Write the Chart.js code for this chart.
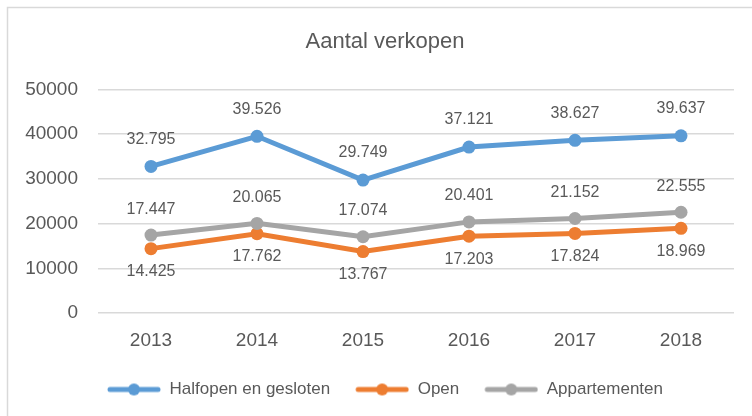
<!DOCTYPE html>
<html>
<head>
    <meta charset="utf-8" />
    <title>Aantal verkopen</title>
    <script src="https://cdn.jsdelivr.net/npm/chart.js"></script>
    <style>
        html, body { margin: 0; padding: 0; background: #fff; }
        .chart-container { width: 752px; height: 416px; position: relative; }
    </style>
</head>
<body>
    <div class="chart-container">
        <canvas id="lineChart"></canvas>
    </div>

    <script>
        // data
        const jaren = ['2013', '2014', '2015', '2016', '2017', '2018'];
        const halfopen = [32795, 39526, 29749, 37121, 38627, 39637];
        const open = [14425, 17762, 13767, 17203, 17824, 18969];
        const appartementen = [17447, 20065, 17074, 20401, 21152, 22555];
        const reeksen = ['Halfopen en gesloten', 'Open', 'Appartementen'];

        const kleuren = ['#5B9BD5', '#ED7D31', '#A5A5A5'];
        const tekstKleur = '#595959';
        const font = 'Liberation Sans, Arial, sans-serif';

        // 32795 -> 32.795
        function fmt(v) {
            return String(v).replace(/\B(?=(\d{3})+(?!\d))/g, '.');
        }

        // legend marker: line with a dot, like excel
        function legendMarker(kleur) {
            const c = document.createElement('canvas');
            c.width = 66;
            c.height = 14;
            const g = c.getContext('2d');
            g.strokeStyle = kleur;
            g.lineWidth = 5;
            g.lineCap = 'round';
            g.beginPath();
            g.moveTo(15, 7);
            g.lineTo(63, 7);
            g.stroke();
            g.fillStyle = kleur;
            g.beginPath();
            g.arc(39, 7, 6, 0, Math.PI * 2);
            g.fill();
            return c;
        }
        const markers = kleuren.map(legendMarker);

        // frame
        const frame = {
            id: 'frame',
            beforeDraw(chart) {
                const c = chart.ctx;
                c.save();
                c.strokeStyle = '#D9D9D9';
                c.lineWidth = 1.5;
                c.strokeRect(7.5, 7.5, 760, 420);
                c.restore();
            }
        };

        // title + legend sit a bit right of the middle in the original
        const shift = {
            id: 'shift',
            afterLayout(chart) {
                [chart.titleBlock, chart.legend].forEach((b, i) => {
                    const d = i === 0 ? 18 : 12;
                    if (b) { b.left += d; b.right += d; }
                });
            }
        };

        // value labels
        const offsets = [-27, 23, -26];
        const labels = {
            id: 'labels',
            afterDatasetsDraw(chart) {
                const c = chart.ctx;
                c.save();
                c.font = '16px ' + font;
                c.fillStyle = tekstKleur;
                c.textAlign = 'center';
                c.textBaseline = 'middle';
                chart.data.datasets.forEach((ds, i) => {
                    const meta = chart.getDatasetMeta(i);
                    meta.data.forEach((pt, j) => {
                        c.fillText(fmt(ds.data[j]), pt.x, pt.y + offsets[i]);
                    });
                });
                c.restore();
            }
        };

        const ctx = document.getElementById('lineChart').getContext('2d');
        const lineChart = new Chart(ctx, {
            type: 'line',
            data: {
                labels: jaren,
                datasets: [{
                    label: reeksen[0],
                    data: halfopen,
                    order: 3
                }, {
                    label: reeksen[1],
                    data: open,
                    order: 2
                }, {
                    label: reeksen[2],
                    data: appartementen,
                    order: 1
                }].map((d, i) => Object.assign(d, {
                    borderColor: kleuren[i],
                    backgroundColor: kleuren[i],
                    borderWidth: 5,
                    pointRadius: 6.5,
                    pointHoverRadius: 6.5,
                    pointBorderWidth: 0,
                    tension: 0,
                    fill: false
                }))
            },
            options: {
                responsive: true,
                maintainAspectRatio: false,
                animation: false,
                layout: {
                    padding: { left: 0, right: 18, top: 0, bottom: 8 }
                },
                scales: {
                    x: {
                        offset: true,
                        grid: { display: false, drawTicks: false },
                        border: { display: false },
                        ticks: {
                            color: tekstKleur,
                            font: { family: font, size: 19 },
                            padding: 16
                        }
                    },
                    y: {
                        min: 0,
                        max: 50000,
                        grid: { color: '#D9D9D9', lineWidth: 1.5, drawTicks: false },
                        border: { display: false },
                        ticks: {
                            stepSize: 10000,
                            color: tekstKleur,
                            font: { family: font, size: 19 },
                            padding: 20,
                            callback: (v) => String(v)
                        },
                        afterFit(scale) {
                            scale.width = 98;
                        }
                    }
                },
                plugins: {
                    tooltip: { enabled: false },
                    title: {
                        display: true,
                        text: 'Aantal verkopen',
                        color: tekstKleur,
                        font: { family: font, size: 22, weight: 'normal' },
                        padding: { top: 29, bottom: 34 }
                    },
                    legend: {
                        position: 'bottom',
                        labels: {
                            color: tekstKleur,
                            font: { family: font, size: 17 },
                            usePointStyle: true,
                            pointStyleWidth: 66,
                            boxHeight: 14,
                            padding: 13,
                            generateLabels(chart) {
                                return chart.data.datasets.map((ds, i) => ({
                                    text: ds.label,
                                    fillStyle: kleuren[i],
                                    strokeStyle: kleuren[i],
                                    fontColor: tekstKleur,
                                    lineWidth: 0,
                                    pointStyle: markers[i],
                                    hidden: false,
                                    datasetIndex: i
                                }));
                            }
                        }
                    }
                }
            },
            plugins: [frame, shift, labels]
        });
    </script>
</body>
</html>
